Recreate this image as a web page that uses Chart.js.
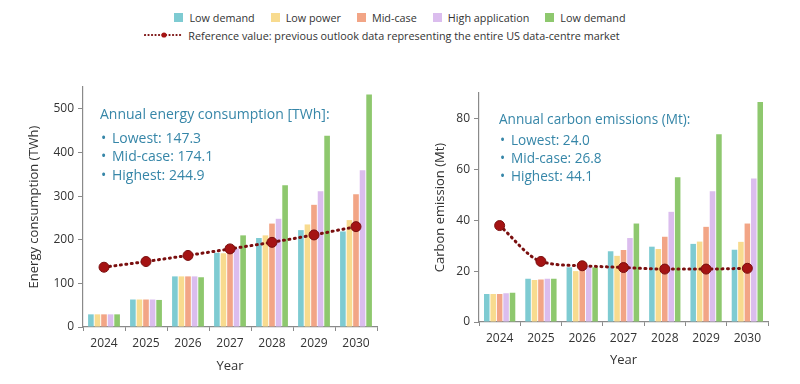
<!DOCTYPE html>
<html>
<head>
<meta charset="utf-8">
<script src="https://cdn.jsdelivr.net/npm/chart.js@4/dist/chart.umd.min.js"></script>
<style>
  html, body { margin: 0; padding: 0; background: #fff; }
  body { width: 800px; height: 384px; position: relative; overflow: hidden; font-family: "Open Sans", "Noto Sans", sans-serif; }
  #legend { position: absolute; left: 0; top: 8px; width: 800px; font-size: 10.8px; color: #333; }
  #legend .row { display: flex; justify-content: center; align-items: center; height: 18px; }
  #legend .item { display: flex; align-items: center; margin: 0 8px; }
  #legend .box { width: 9px; height: 9px; margin-right: 6px; }
  #legend .refline { width: 40px; height: 10px; margin-right: 4px; }
  .wrap { position: absolute; top: 50px; width: 400px; height: 334px; }
</style>
</head>
<body>
<div id="legend"></div>
<div class="wrap" style="left:0"><canvas id="energy"></canvas></div>
<div class="wrap" style="left:400px"><canvas id="carbon"></canvas></div>
<script>
// ---- data ----
const years = ['2024', '2025', '2026', '2027', '2028', '2029', '2030'];
const seriesNames = ['Low demand', 'Low power', 'Mid-case', 'High application', 'Low demand'];
const refName = 'Reference value: previous outlook data representing the entire US data-centre market';

// energy consumption (TWh)
const energyLowDemand = [29, 63, 116, 170, 204, 222, 219];
const energyLowPower = [29, 63, 116, 169, 210, 235, 245];
const energyMidCase = [29, 63, 116, 176, 237, 280, 304];
const energyHighApp = [29, 63, 116, 180, 248, 311, 359];
const energyLowDemand2 = [29, 62, 114, 210, 325, 438, 533];
const energyReference = [137, 150, 164, 179, 194, 211, 230];
const energyTicks = [0, 100, 200, 300, 400, 500];

// carbon emissions (Mt)
const carbonLowDemand = [11, 17, 21.5, 27.8, 29.6, 30.7, 28.4];
const carbonLowPower = [11, 16.5, 20, 26, 28.7, 31.6, 31.5];
const carbonMidCase = [11, 16.7, 21, 28.3, 33.5, 37.4, 38.7];
const carbonHighApp = [11.3, 17, 22, 33, 43.3, 51.4, 56.4];
const carbonLowDemand2 = [11.5, 17, 21.5, 38.7, 56.9, 73.8, 86.5];
const carbonReference = [37.9, 23.8, 22.1, 21.4, 20.8, 20.8, 21.1];
const carbonTicks = [0, 20, 40, 60, 80];

const energyNote = ['Annual energy consumption [TWh]:', 'Lowest: 147.3', 'Mid-case: 174.1', 'Highest: 244.9'];
const carbonNote = ['Annual carbon emissions (Mt):', 'Lowest: 24.0', 'Mid-case: 26.8', 'Highest: 44.1'];

// ---- styles ----
const barColors = ['#7ecbd2', '#f8db8f', '#f2a586', '#dbbdee', '#8ec86e'];
const refColor = '#7a0f0f';
const noteColor = '#3686a8';
const axisColor = '#8a8a8a';
const fontFamily = '"Open Sans", "Noto Sans", sans-serif';

// legend (html)
const legend = document.getElementById('legend');
const row1 = document.createElement('div');
row1.className = 'row';
seriesNames.forEach((name, i) => {
    const item = document.createElement('span');
    item.className = 'item';
    item.innerHTML = '<span class="box" style="background:' + barColors[i] + '"></span>' + name;
    row1.appendChild(item);
});
const row2 = document.createElement('div');
row2.className = 'row';
row2.style.paddingRight = '36px';
row2.innerHTML = '<span class="item"><svg class="refline" viewBox="0 0 40 10">' +
    '<line x1="1" y1="5" x2="39" y2="5" stroke="' + refColor + '" stroke-width="2.2" stroke-dasharray="0.1 3.4" stroke-linecap="round"/>' +
    '<circle cx="20" cy="5" r="2.6" fill="#a51313"/></svg>' + refName + '</span>';
legend.appendChild(row1);
legend.appendChild(row2);

// annotation text inside the plot
const notePlugin = {
    id: 'note',
    afterDraw(chart, args, opts) {
        const ctx = chart.ctx;
        const x = chart.chartArea.left + opts.dx;
        let y = chart.chartArea.top + opts.dy;
        ctx.save();
        ctx.fillStyle = noteColor;
        ctx.textBaseline = 'middle';
        ctx.font = opts.size + 'px ' + fontFamily;
        ctx.fillText(opts.lines[0], x, y);
        y += opts.gap1;
        opts.lines.slice(1).forEach(line => {
            ctx.fillText('\u2022', x + 1, y);
            ctx.fillText(line, x + 12, y);
            y += opts.gap;
        });
        ctx.restore();
    }
};

function makeChart(id, values, reference, ticks, yMax, yTitle, note, pad, yWidth, curved) {
    const datasets = values.map((vals, i) => ({
        type: 'bar',
        label: seriesNames[i],
        data: vals,
        backgroundColor: barColors[i],
        barPercentage: 0.86,
        categoryPercentage: 0.78,
        order: 2
    }));
    datasets.push({
        type: 'line',
        label: refName,
        data: reference,
        borderColor: refColor,
        borderWidth: 3,
        borderDash: [1, 4.5],
        borderCapStyle: 'round',
        pointRadius: 5,
        pointBackgroundColor: '#a51313',
        pointBorderColor: refColor,
        pointBorderWidth: 1,
        cubicInterpolationMode: curved ? 'monotone' : 'default',
        tension: 0,
        order: 1
    });
    return new Chart(document.getElementById(id), {
        data: { labels: years, datasets: datasets },
        plugins: [notePlugin],
        options: {
            responsive: true,
            maintainAspectRatio: false,
            animation: false,
            layout: { padding: pad },
            plugins: {
                legend: { display: false },
                tooltip: { enabled: false },
                note: note
            },
            scales: {
                x: {
                    offset: true,
                    grid: { drawOnChartArea: false, drawTicks: true, tickLength: 4, color: axisColor },
                    border: { display: true, color: axisColor, width: 1.2 },
                    ticks: { color: '#333', font: { size: 12, family: fontFamily }, padding: 5 },
                    title: { display: true, text: 'Year', color: '#333', font: { size: 13, family: fontFamily }, padding: { top: 2, bottom: pad.tb } },
                    afterFit: s => { s.height = pad.xh; }
                },
                y: {
                    min: 0,
                    max: yMax,
                    afterBuildTicks: s => { s.ticks = ticks.map(v => ({ value: v })); },
                    grid: { drawOnChartArea: false, drawTicks: true, tickLength: 5, color: axisColor },
                    border: { display: true, color: axisColor, width: 1.2 },
                    ticks: { color: '#333', font: { size: 12, family: fontFamily }, padding: 4 },
                    title: { display: true, text: yTitle, color: '#333', font: { size: 13, family: fontFamily }, padding: 0 },
                    afterFit: s => { s.width = yWidth; }
                }
            }
        }
    });
}

makeChart('energy',
    [energyLowDemand, energyLowPower, energyMidCase, energyHighApp, energyLowDemand2],
    energyReference, energyTicks, 550, 'Energy consumption (TWh)',
    { lines: energyNote, size: 14, dx: 17, dy: 28, gap1: 24, gap: 18.5 },
    { left: 26, right: 23, top: 37, bottom: 0, xh: 57, tb: 10 }, 57, false);

makeChart('carbon',
    [carbonLowDemand, carbonLowPower, carbonMidCase, carbonHighApp, carbonLowDemand2],
    carbonReference, carbonTicks, 90, 'Carbon emission (Mt)',
    { lines: carbonNote, size: 13.6, dx: 20, dy: 27, gap1: 21.5, gap: 18 },
    { left: 32, right: 32, top: 43, bottom: 0, xh: 62, tb: 16 }, 47, true);
</script>
</body>
</html>
